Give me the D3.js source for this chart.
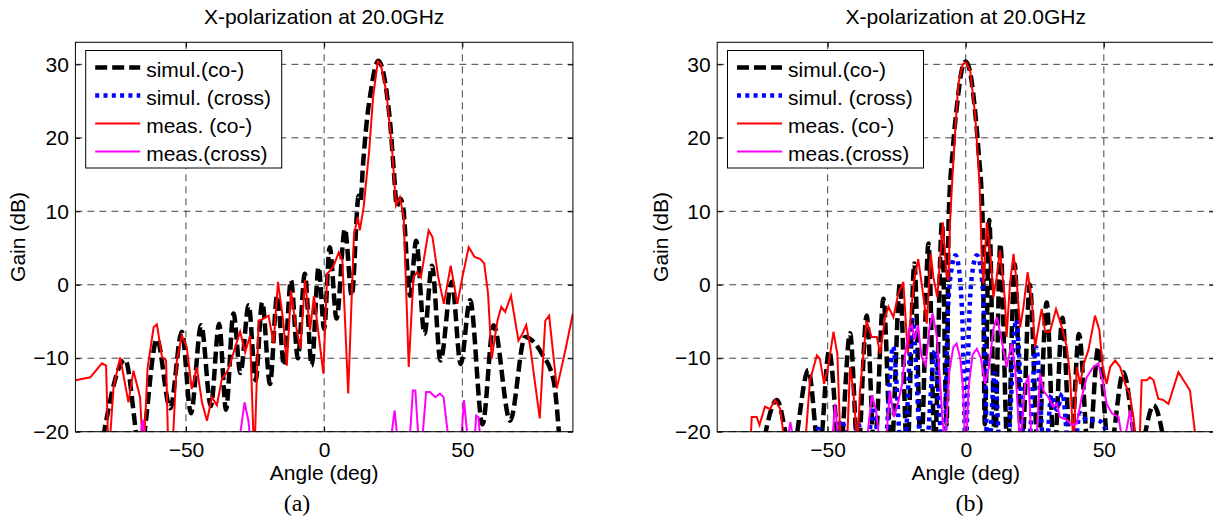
<!DOCTYPE html>
<html>
  <head>
    <meta charset="utf-8">
    <title>X-polarization at 20.0GHz</title>
    <script src="https://cdn.jsdelivr.net/npm/d3@7"></script>
    <style>
      body { margin: 0; background: #fff; }
      svg { display: block; font-family: "Liberation Sans", Arial, sans-serif; }
    </style>
  </head>
  <body>
    <svg id="chart" width="1213" height="520"></svg>

    <script>
      // ---- data: [angle (deg), gain (dB)] ----
      titleText = "X-polarization at 20.0GHz";
      xLabel = "Angle (deg)";
      yLabel = "Gain (dB)";
      xTicks = [-50, 0, 50];
      yTicks = [-20, -10, 0, 10, 20, 30];
      xDomain = [-90, 90];
      yDomain = [-20, 33];
      legendLabels = ["simul.(co-)", "simul. (cross)", "meas. (co-)", "meas.(cross)"];
      panelLabels = ["(a)", "(b)"];

      // panel (a): beam scanned to 20 deg
      simCoA = [[-81, -23], [-72, -10.2], [-66.5, -22.5], [-60.5, -7.4], [-55.7, -16.8], [-51.5, -6.4],
        [-48.2, -17.5], [-44.5, -5.5], [-41, -16.5], [-38, -5.3], [-35.5, -17], [-32.8, -3.9],
        [-30.3, -12], [-27.3, -2.8], [-24.8, -13], [-22.4, -2.4], [-19.6, -13.5], [-17, -1.5],
        [-14.5, -11], [-12, 0.6], [-9.5, -10], [-7, 1.5], [-4.5, -11], [-2, 2.4], [0, -6],
        [2, 5.1], [4.5, -4.6], [7.5, 7.6], [10, -1.5], [12.5, 12.1], [13.2, 11.5], [14, 16],
        [15.5, 22.5], [17, 26.6], [18.3, 29.3], [19.6, 30.5], [21, 29.5], [22.5, 26.5], [24, 21.5],
        [25.3, 15], [26.3, 10.7], [27.5, 11.7], [28.6, 10.5], [30.3, 1], [31.1, -1.5], [33.3, 6],
        [36.3, -6.7], [39, 2.6], [42.1, -10.3], [46.2, 0.4], [49.4, -10.8], [52.8, -2.1],
        [57.3, -19], [61.3, -5.5], [67.3, -18.5], [72.7, -7.1], [78.8, -9.4], [83, -13], [85.5, -23]];
      simCrossA = [];
      measCoA = [[-90, -13], [-84.6, -12.6], [-80.4, -10.7], [-78.9, -11], [-78, -24], [-76.2, -13.9],
        [-73.8, -9.9], [-70.8, -16], [-69, -11.7], [-66.6, -15.3], [-65.4, -24], [-63.9, -11.4],
        [-61.7, -5.8], [-60.5, -5.4], [-58.7, -9.8], [-57.2, -10.3], [-56.3, -24], [-55.1, -24],
        [-53.3, -10.3], [-51.5, -6.9], [-49.7, -8.5], [-47.9, -14.2], [-46.1, -11.2], [-44.2, -16],
        [-42.4, -18.5], [-40.6, -15.3], [-38.8, -16.4], [-37, -12.8], [-35.2, -11.9], [-34, -10.8],
        [-32.2, -8.5], [-30.4, -6.4], [-28.6, -9.2], [-26.8, -6.9], [-25.3, -24], [-23.7, -4.9],
        [-21.9, -4.6], [-20.1, -4.2], [-18.3, -8], [-16.7, 0.4], [-14.8, -4.9], [-13.5, -11],
        [-12, -0.8], [-10.5, -5], [-8.6, -8.7], [-6.9, 0.6], [-5.1, -6.2], [-3.7, -1.5],
        [-2.4, -5.5], [-0.3, -12.1], [1.1, 1.5], [3.2, 2.4], [5.3, 4.4], [6.6, 3.3], [8.7, -14.8],
        [10.8, 6.9], [12.2, 9.2], [12.9, 7.4], [14.3, 10.6], [16.3, 18.3], [17.7, 25.5], [19.4, 30.4],
        [20.5, 30], [22.6, 26], [24.6, 18.3], [26, 10.8], [27.4, 11.9], [28.8, 9.2], [30.6, -11.2],
        [32.3, 1], [33.6, 1.7], [35, 1], [37.8, 7.4], [39.2, 6.5], [41.3, 1], [43.3, -2.6],
        [45.8, 2.6], [48.2, -2.6], [50, 1], [52.3, 5.1], [54.4, 3.8], [56.5, 3.5], [57.9, 2.9],
        [59.3, -1.2], [60.6, -10.1], [62.7, -4.9], [64.1, -3], [65.5, -3.7], [67.6, -1.5],
        [70.3, -7.6], [71.7, -6.7], [73.1, -5.5], [74.5, -8.3], [78, -18.2], [80, -4.9],
        [81.4, -4.2], [84.2, -14.1], [87, -9.4], [90, -3.9]];
      measCrossA = [[-67, -22], [-65.6, -18.4], [-64.5, -22], [-31, -22], [-28.8, -16], [-27.4, -18.5],
        [-26.5, -22], [23.8, -22], [25.5, -17.1], [26.8, -22], [30.8, -22], [32.1, -14.4],
        [33, -14.4], [34.3, -22], [35.3, -22], [36.9, -14.6], [38.3, -14.6], [40.2, -15.3],
        [41.9, -14.8], [43.2, -15.3], [45.3, -22], [49.4, -22], [50.6, -15.7], [52.2, -22],
        [54.3, -22], [55, -17.8], [55.8, -18], [56.7, -22]];

      // panel (b): broadside beam
      simCoB = [[-74, -23], [-68.4, -15.7], [-63, -23], [-57, -11.6], [-53, -23], [-49.5, -9],
        [-45.5, -23], [-41.9, -6.6], [-39, -23], [-35.9, -4.2], [-33, -23], [-29.8, -1.9],
        [-27, -23], [-23.8, 0.2], [-21.2, -23], [-18.6, 2.9], [-16.2, -23], [-13.5, 5.6],
        [-11.2, -22], [-8.6, 8.5], [-6.9, -19], [-6.2, 9], [-4.7, 18.3], [-3, 25], [-1.5, 29.1],
        [0, 30.4], [1.5, 29.1], [3, 25], [4.6, 18.3], [6.1, 9], [6.9, -19], [8.5, 8.8],
        [10.6, -22], [12.5, 5.6], [15.2, -23], [17.7, 2.8], [20.3, -23], [23.2, 0], [26.2, -23],
        [29.3, -2.4], [32, -23], [35, -4.5], [38, -23], [41, -6.7], [44.5, -23], [48, -8.5],
        [52, -23], [57.1, -11.9], [62.5, -23], [68, -16.4], [72.5, -23]];
      simCrossB = [[-56, -23], [-53.4, -19.6], [-51, -23], [-47.5, -23], [-44.9, -18.4], [-42.2, -23],
        [-41, -23], [-38.9, -18.9], [-36.8, -23], [-36, -23], [-33.5, -16.6], [-30.8, -23],
        [-29.5, -23], [-26.3, -8.4], [-23.2, -23], [-22.3, -23], [-19.3, -4.8], [-16, -23],
        [-14.5, -23], [-11.2, -9], [-8.3, -23], [-7.8, -23], [-6.5, -4], [-5, 2.5], [-3.7, 4],
        [-2.4, 2], [-1.2, -5], [0, -23], [1.2, -5], [2.5, 2], [4, 4], [5.3, 2.5], [6.6, -4],
        [7.9, -23], [8.3, -23], [10.5, -12], [12.5, -23], [15, -23], [18.2, -4.8], [21.5, -23],
        [22.5, -23], [25.5, -8.5], [28.5, -23], [29, -23], [31, -15], [33, -17], [35, -14.8],
        [37.5, -23], [39, -23], [41.4, -17.5], [44, -18.5], [47.4, -18.4], [49.8, -19], [52, -23]];
      measCoB = [[-78, -22], [-77.5, -18], [-75.7, -18], [-74.7, -19.1], [-72.7, -16.6], [-70.9, -16.9],
        [-69, -15.7], [-67.2, -16.9], [-65.4, -22], [-58.2, -22], [-56.4, -13], [-53.9, -9.6],
        [-52.8, -10.1], [-51.3, -13.5], [-49.7, -10.9], [-47.9, -6.4], [-46.5, -9.4], [-45.3, -22],
        [-43, -22], [-41.9, -11.2], [-40.7, -14.4], [-39.2, -22], [-38.3, -14.4], [-35.9, -4.9],
        [-34.1, -7.1], [-32.2, -7.1], [-31, -9.4], [-29.2, -4.4], [-28, -3], [-26.2, -4.4],
        [-24.4, -1.2], [-22.6, 0.4], [-21, -9.4], [-20.2, -5.3], [-18.7, 0.6], [-17.2, 3.5],
        [-15.3, -1.7], [-14.1, -5.3], [-12.7, 4.2], [-11.7, 1], [-10.3, -1.7], [-8.3, 8.5],
        [-7, 1.5], [-6.3, 0.6], [-5.7, 8.3], [-5.1, 12.8], [-3.9, 20.5], [-2.7, 27.3], [-1.1, 30],
        [0.1, 30.3], [1.6, 29.1], [3.4, 23.2], [5, 13.7], [5.8, 3.8], [6.4, 0.1], [7.6, 8.5],
        [9, 3.8], [10, -1.7], [11.2, 1], [12.4, 4.7], [14.2, -2.1], [14.8, -7.1], [16, 0.1],
        [17.3, 4.2], [18.5, 0.1], [19.7, -5.8], [20.9, -3], [22.4, 1.7], [23.9, -2.1], [25.1, -8.5],
        [26.3, -5.8], [27.5, -3.3], [28.7, -6.4], [30.5, -6.4], [32.7, -3.3], [34.8, -5.8],
        [36.6, -8.5], [37.8, -12.6], [39, -22], [40.2, -11.2], [41.4, -13.5], [42.8, -10.7],
        [44.4, -8.9], [46, -5.8], [46.8, -4.2], [48.4, -6.2], [49.6, -11.2], [51, -13.5],
        [52.3, -11.2], [54.1, -10.3], [55.9, -11.2], [57.7, -13.5], [59.3, -14.8], [60.7, -18],
        [61.9, -22], [62.9, -22], [63.7, -13], [65.5, -13], [66.7, -12.6], [68, -13], [69.7, -15.5],
        [71.6, -15.7], [73.4, -16.2], [77, -11.9], [81.2, -14.4], [83.6, -22]];
      measCrossB = [[-65, -22], [-63.5, -18.7], [-62, -22], [-48.5, -22], [-47.3, -16.2], [-46, -22],
        [-36, -22], [-34, -15], [-32.5, -17], [-31, -22], [-29, -22], [-27.5, -14.4], [-26, -18],
        [-24.5, -16], [-23, -13.5], [-22, -9.5], [-20.5, -6], [-19.5, -5.5], [-18.5, -7.5],
        [-17.3, -5.5], [-16, -9.8], [-14.5, -11], [-13.2, -6], [-12, -3.9], [-10.5, -7],
        [-9.5, -12], [-8.5, -18], [-7.5, -22], [-6, -12], [-4.5, -8.5], [-3.3, -8], [-2, -10],
        [-1, -14], [0, -24], [1, -14], [2.5, -9.5], [4, -8.7], [5.5, -10], [7, -13.5], [8.5, -11],
        [10, -6], [11.3, -4.4], [13, -7.6], [14.8, -11.2], [16.6, -8], [17.9, -11.2], [19.7, -22],
        [21.5, -13.5], [22.7, -12.6], [23.9, -22], [25.5, -22], [26.9, -12.1], [28.1, -14.4],
        [29.9, -15.3], [31.7, -16.6], [33, -16.2], [34.1, -18], [36.6, -18.4], [38.4, -19.1],
        [40.2, -18.9], [42, -15.3], [43.8, -12.6], [46.2, -11.2], [48, -10.7], [49.8, -13.5],
        [51, -16.2], [52.9, -17.5], [55.3, -18], [57.1, -22], [59.5, -17.1], [61, -22]];

      // ---- styles ----
      styles = [
        {color: "#000", width: 4.5, dash: "12,5", curve: d3.curveMonotoneX},
        {color: "#0000ff", width: 4.5, dash: "4,4.3", curve: d3.curveMonotoneX},
        {color: "#ff0000", width: 2, dash: null, curve: d3.curveLinear},
        {color: "#ff00ff", width: 2, dash: null, curve: d3.curveLinear}
      ];

      chart = d3.select("#chart");
      margin = {top: 42.3, bottom: 431.7};

      drawPanel({left: 75.4, right: 572.9, labelX: 297, yLabelX: 17, key: "a",
        series: [simCoA, simCrossA, measCoA, measCrossA], label: panelLabels[0]});
      drawPanel({left: 717.2, right: 1214.3, labelX: 969.5, yLabelX: 660.5, key: "b",
        series: [simCoB, simCrossB, measCoB, measCrossB], label: panelLabels[1]});

      function drawPanel(p) {
        x = d3.scaleLinear().domain(xDomain).range([p.left, p.right]);
        y = d3.scaleLinear().domain(yDomain).range([margin.bottom, margin.top]);
        g = chart.append("g");

        g.append("defs").append("clipPath").attr("id", "clip" + p.key)
          .append("rect")
            .attr("x", p.left).attr("y", margin.top)
            .attr("width", p.right - p.left).attr("height", margin.bottom - margin.top);

        // grid
        g.selectAll(".gx").data(xTicks).join("line")
            .attr("x1", d => x(d)).attr("x2", d => x(d))
            .attr("y1", margin.top).attr("y2", margin.bottom)
            .attr("stroke", "#444").attr("stroke-dasharray", "7,5");
        g.selectAll(".gy").data(yTicks).join("line")
            .attr("x1", p.left).attr("x2", p.right)
            .attr("y1", d => y(d)).attr("y2", d => y(d))
            .attr("stroke", "#444").attr("stroke-dasharray", "7,5");

        // curves
        p.series.forEach((s, i) => {
          lineGen = d3.line().x(d => x(d[0])).y(d => y(d[1])).curve(styles[i].curve);
          g.append("path")
              .attr("clip-path", "url(#clip" + p.key + ")")
              .attr("d", s.length ? lineGen(s) : null)
              .attr("fill", "none")
              .attr("stroke", styles[i].color)
              .attr("stroke-width", styles[i].width)
              .attr("stroke-dasharray", styles[i].dash);
        });

        // axes box and ticks
        g.append("rect")
            .attr("x", p.left).attr("y", margin.top)
            .attr("width", p.right - p.left).attr("height", margin.bottom - margin.top)
            .attr("fill", "none").attr("stroke", "#000");

        axisB = g.append("g").attr("transform", "translate(0," + margin.bottom + ")")
            .call(d3.axisBottom(x).tickValues(xTicks).tickSizeInner(-5).tickSizeOuter(0).tickPadding(10));
        axisT = g.append("g").attr("transform", "translate(0," + margin.top + ")")
            .call(d3.axisTop(x).tickValues(xTicks).tickSizeInner(-5).tickSizeOuter(0).tickFormat(""));
        axisL = g.append("g").attr("transform", "translate(" + p.left + ",0)")
            .call(d3.axisLeft(y).tickValues(yTicks).tickSizeInner(-5).tickSizeOuter(0).tickPadding(6.5));
        axisR = g.append("g").attr("transform", "translate(" + p.right + ",0)")
            .call(d3.axisRight(y).tickValues(yTicks).tickSizeInner(-5).tickSizeOuter(0).tickFormat(""));
        [axisB, axisT, axisL, axisR].forEach(a => {
          a.select(".domain").remove();
          a.selectAll("text").attr("font-size", 21).attr("font-family", "Liberation Sans, Arial, sans-serif").attr("fill", "#000");
        });

        // legend
        lx = p.left + 10.3;
        ly = 50.5;
        leg = g.append("g");
        leg.append("rect").attr("x", lx).attr("y", ly).attr("width", 196).attr("height", 117.5)
            .attr("fill", "#fff").attr("stroke", "#000");
        legendLabels.forEach((t, i) => {
          ry = ly + 18.5 + i * 28;
          leg.append("line")
              .attr("x1", lx + 9.5).attr("x2", lx + 54.5)
              .attr("y1", ry - 1.5).attr("y2", ry - 1.5)
              .attr("stroke", styles[i].color)
              .attr("stroke-width", styles[i].width)
              .attr("stroke-dasharray", styles[i].dash);
          leg.append("text").attr("x", lx + 60.5).attr("y", ry + 7.5)
              .attr("font-size", 21).text(t);
        });

        // titles and labels
        cx = (p.left + p.right) / 2;
        g.append("text").attr("x", cx).attr("y", 24).attr("text-anchor", "middle")
            .attr("font-size", 21).text(titleText);
        g.append("text").attr("x", cx).attr("y", 480).attr("text-anchor", "middle")
            .attr("font-size", 21).text(xLabel);
        g.append("text").attr("transform", "translate(" + p.yLabelX + "," + ((margin.top + margin.bottom) / 2) + ") rotate(-90)")
            .attr("text-anchor", "middle").attr("dominant-baseline", "central")
            .attr("font-size", 21).text(yLabel);
        g.append("text").attr("x", p.labelX).attr("y", 511).attr("text-anchor", "middle")
            .attr("font-family", "Liberation Serif, Times New Roman, serif")
            .attr("font-size", 24).text(p.label);
      }
    </script>
  </body>
</html>
